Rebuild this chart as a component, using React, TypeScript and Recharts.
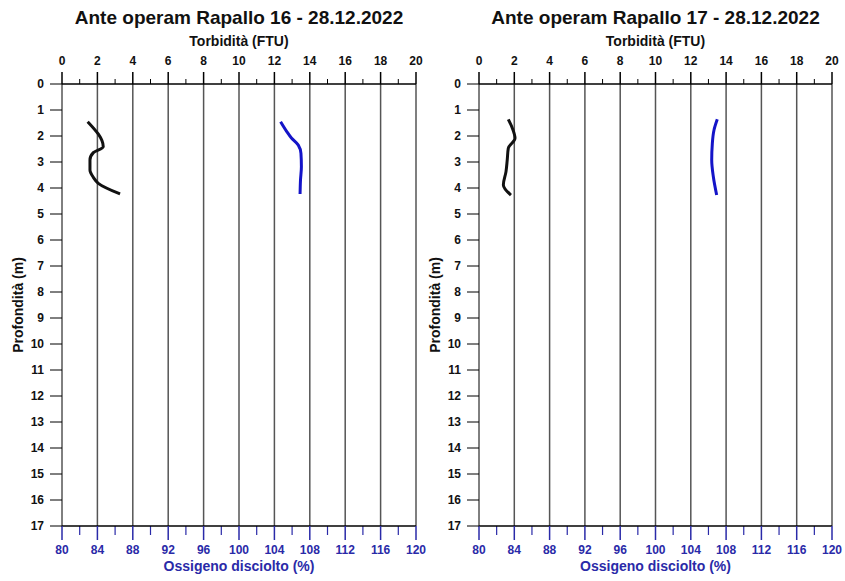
import { LineChart, Line, XAxis, YAxis, ReferenceLine } from 'recharts'

const FONT = '"Liberation Sans", Arial, sans-serif'
const BLUE_TXT = '#2a2aa8'
const BLUE_LINE = '#1414c8'

// depth axis (m)
const DEPTH_TICKS = [0, 1, 2, 3, 4, 5, 6, 7, 8, 9, 10, 11, 12, 13, 14, 15, 16, 17]
// top axis: turbidity (FTU)
const FTU_MAJOR = [0, 2, 4, 6, 8, 10, 12, 14, 16, 18, 20]
const FTU_MINOR = [1, 3, 5, 7, 9, 11, 13, 15, 17, 19]
const FTU_GRID = [2, 4, 6, 8, 10, 12, 14, 16, 18, 20]
// bottom axis: oxygen (%)
const OXY_MAJOR = [80, 84, 88, 92, 96, 100, 104, 108, 112, 116, 120]
const OXY_MINOR = [82, 86, 90, 94, 98, 102, 106, 110, 114, 118]

// Rapallo 16
const r16TurbDepth = [1.45, 2.41, 2.64, 2.92, 3.31, 3.59, 3.82, 4.23]
const r16Turb = [1.45, 2.33, 1.77, 1.58, 1.58, 1.77, 2.05, 3.28]
const r16OxyDepth = [1.45, 1.83, 2.09, 2.35, 2.67, 3.18, 3.69, 4.23]
const r16Oxy = [104.7, 105.4, 105.95, 106.7, 107.0, 107.05, 106.95, 106.9]

// Rapallo 17
const r17TurbDepth = [1.36, 1.7, 2.09, 2.47, 2.92, 3.37, 3.88, 4.27]
const r17Turb = [1.66, 1.89, 2.04, 1.66, 1.6, 1.53, 1.38, 1.81]
const r17OxyDepth = [1.36, 1.77, 2.28, 2.92, 3.56, 4.27]
const r17Oxy = [107.0, 106.63, 106.44, 106.37, 106.55, 106.93]

// minor tick length, in depth units (plot is 26 px per metre)
const TOP_MINOR_LEN = 5 / 26
const BOTTOM_MINOR_LEN = 9 / 26

const zip = (depth: number[], vals: number[]) => depth.map((d, i) => ({ d, v: vals[i] }))

interface PanelProps {
  left: number
  width: number
  rightGap: number
  title: string
  turb: { d: number; v: number }[]
  oxy: { d: number; v: number }[]
}

function Panel({ left, width, rightGap, title, turb, oxy }: PanelProps) {
  const plotW = width - 62 - rightGap
  const cx = left + 62 + plotW / 2
  return (
    <>
      <div style={{ position: 'absolute', left: cx - 200, top: 6, width: 400, textAlign: 'center', fontFamily: FONT, fontWeight: 'bold', fontSize: 19, color: '#111', lineHeight: '24px' }}>
        {title}
      </div>
      <div style={{ position: 'absolute', left: cx - 100, top: 33, width: 200, textAlign: 'center', fontFamily: FONT, fontWeight: 'bold', fontSize: 14, color: '#111', lineHeight: '17px' }}>
        Torbidità (FTU)
      </div>
      <div style={{ position: 'absolute', left: cx - 150, top: 558, width: 300, textAlign: 'center', fontFamily: FONT, fontWeight: 'bold', fontSize: 14, color: BLUE_TXT, lineHeight: '17px' }}>
        Ossigeno disciolto (%)
      </div>
      <div style={{ position: 'absolute', left: left + 18 - 80, top: 305 - 9, width: 160, textAlign: 'center', fontFamily: FONT, fontWeight: 'bold', fontSize: 14, color: '#111', lineHeight: '18px', transform: 'rotate(-90deg)' }}>
        Profondità (m)
      </div>
      <div style={{ position: 'absolute', left, top: 0 }}>
        <LineChart
          width={width}
          height={581}
          layout="vertical"
          margin={{ top: 54, right: rightGap, left: 32, bottom: 25 }}
        >
          <XAxis
            xAxisId="t"
            orientation="top"
            type="number"
            domain={[0, 20]}
            ticks={FTU_MAJOR}
            interval={0}
            height={30}
            tickSize={12}
            tickMargin={7}
            tick={{ fontSize: 12, fontWeight: 'bold', fill: '#111', fontFamily: FONT }}
            tickLine={{ stroke: '#000', strokeWidth: 1.5 }}
            axisLine={{ stroke: '#000', strokeWidth: 1.5 }}
            stroke="#000"
            allowDataOverflow
          />
          <XAxis
            xAxisId="o"
            orientation="bottom"
            type="number"
            domain={[80, 120]}
            ticks={OXY_MAJOR}
            interval={0}
            height={30}
            tickSize={14}
            tickMargin={5}
            tick={{ fontSize: 12, fontWeight: 'bold', fill: BLUE_TXT, fontFamily: FONT }}
            tickLine={{ stroke: BLUE_TXT, strokeWidth: 1.5 }}
            axisLine={{ stroke: '#000', strokeWidth: 1.5 }}
            allowDataOverflow
          />
          <YAxis
            type="number"
            dataKey="d"
            domain={[0, 17]}
            ticks={DEPTH_TICKS}
            interval={0}
            width={30}
            tickSize={12}
            tickMargin={6}
            tick={{ fontSize: 12, fontWeight: 'bold', fill: '#111', fontFamily: FONT }}
            stroke="#000"
            allowDataOverflow
          />
          {FTU_GRID.map((v) => (
            <ReferenceLine key={v} xAxisId="t" x={v} stroke="#555" strokeWidth={1.5} />
          ))}
          {FTU_MINOR.map((v) => (
            <ReferenceLine
              key={'tm' + v}
              xAxisId="t"
              segment={[{ x: v, y: 0 }, { x: v, y: -TOP_MINOR_LEN }]}
              stroke="#000"
              strokeWidth={1}
              ifOverflow="visible"
            />
          ))}
          {OXY_MINOR.map((v) => (
            <ReferenceLine
              key={'om' + v}
              xAxisId="o"
              segment={[{ x: v, y: 17 }, { x: v, y: 17 + BOTTOM_MINOR_LEN }]}
              stroke={BLUE_TXT}
              strokeWidth={1.2}
              ifOverflow="visible"
            />
          ))}
          <Line
            xAxisId="t"
            data={turb}
            dataKey="v"
            type="monotone"
            stroke="#111"
            strokeWidth={3}
            dot={false}
            isAnimationActive={false}
          />
          <Line
            xAxisId="o"
            data={oxy}
            dataKey="v"
            type="monotone"
            stroke={BLUE_LINE}
            strokeWidth={3}
            dot={false}
            isAnimationActive={false}
          />
        </LineChart>
      </div>
    </>
  )
}

export default function App() {
  return (
    <div style={{ position: 'absolute', left: 0, top: 0, width: 845, height: 581, background: '#fff', overflow: 'hidden' }}>
      <Panel left={0} width={432} rightGap={16} title="Ante operam Rapallo 16 - 28.12.2022" turb={zip(r16TurbDepth, r16Turb)} oxy={zip(r16OxyDepth, r16Oxy)} />
      <Panel left={417} width={428} rightGap={13} title="Ante operam Rapallo 17 - 28.12.2022" turb={zip(r17TurbDepth, r17Turb)} oxy={zip(r17OxyDepth, r17Oxy)} />
    </div>
  )
}
